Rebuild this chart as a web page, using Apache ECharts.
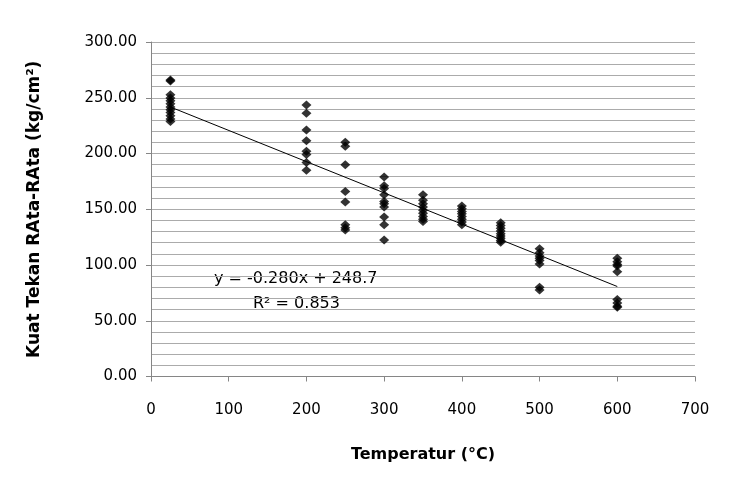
<!DOCTYPE html>
<html>
<head>
<meta charset="utf-8">
<script src="https://cdn.jsdelivr.net/npm/echarts@6/dist/echarts.min.js"></script>
<style>
html,body{margin:0;padding:0;background:#fff;}
#main{width:742px;height:485px;}
</style>
</head>
<body>
<div id="main"></div>
<script>
// suhu (x) dan kuat tekan tiap suhu (y)
var suhu = [25, 200, 250, 300, 350, 400, 450, 500, 600];
var kuat25 = [266, 265, 252.7, 249.7, 247.3, 244.6, 241.7, 239.2, 236.8, 233.8, 230.9, 228.7];
var kuat200 = [243.5, 236, 221, 211.5, 202, 199, 192, 185];
var kuat250 = [210, 206.5, 190, 166, 156.5, 136, 133.5, 131.5];
var kuat300 = [179, 171, 168.5, 163, 157, 155, 152, 143, 136, 122.5];
var kuat350 = [163, 158, 155, 152, 149, 146.5, 143.5, 141, 139];
var kuat400 = [153, 150.5, 148, 146, 143.5, 141, 138.5, 136];
var kuat450 = [138, 135.5, 133, 130.5, 128, 126, 124, 122, 120.5];
var kuat500 = [114.5, 111, 108, 106, 104, 101, 80, 77.5];
var kuat600 = [106, 103, 100.5, 99, 94, 69, 66, 63, 62];
var kuatSemua = [kuat25, kuat200, kuat250, kuat300, kuat350, kuat400, kuat450, kuat500, kuat600];

// garis trend (regresi linear dari label)
var slope = -0.280, intercept = 248.7;
var trendX = [25, 600];

var xTicks = [0, 100, 200, 300, 400, 500, 600, 700];
var yTicks = [0, 50, 100, 150, 200, 250, 300];

var titik = [];
suhu.forEach(function (t, i) {
    kuatSemua[i].forEach(function (v) {
        titik.push([t, v]);
    });
});
var trend = trendX.map(function (x) { return [x, slope * x + intercept]; });

var myChart = echarts.init(document.getElementById('main'));
var font = 'DejaVu Sans';
var option = {
    backgroundColor: '#fff',
    animation: false,
    grid: { left: 151, right: 47, top: 42, bottom: 108.5 },
    xAxis: {
        type: 'value',
        min: xTicks[0], max: xTicks[xTicks.length - 1], interval: 100,
        name: 'Temperatur (°C)',
        nameLocation: 'middle',
        nameGap: 70,
        nameTextStyle: { fontFamily: font, fontSize: 16, fontWeight: 'bold', color: '#000' },
        axisLine: { lineStyle: { color: '#868686' } },
        axisTick: { length: 5, lineStyle: { color: '#868686' } },
        axisLabel: { margin: 26, fontFamily: font, fontSize: 15, color: '#000' },
        splitLine: { show: false }
    },
    yAxis: {
        type: 'value',
        min: yTicks[0], max: yTicks[yTicks.length - 1], interval: 50,
        name: 'Kuat Tekan RAta-RAta (kg/cm²)',
        nameLocation: 'middle',
        nameGap: 108,
        nameTextStyle: { fontFamily: font, fontSize: 17, fontWeight: 'bold', color: '#000' },
        axisLine: { show: true, lineStyle: { color: '#868686' } },
        axisTick: { show: true, length: 5, lineStyle: { color: '#868686' } },
        axisLabel: {
            margin: 14, fontFamily: font, fontSize: 15, color: '#000',
            formatter: function (v) { return v.toFixed(2); }
        },
        splitLine: { show: true, lineStyle: { color: '#ababab', width: 1 } },
        minorTick: { show: false, splitNumber: 5 },
        minorSplitLine: { show: true, lineStyle: { color: '#ababab', width: 1 } }
    },
    graphic: [
        { type: 'text', left: 214, top: 271,
          style: { text: 'y = -0.280x + 248.7', fontFamily: font, fontSize: 16, fill: '#000' } },
        { type: 'text', left: 253, top: 296,
          style: { text: 'R² = 0.853', fontFamily: font, fontSize: 16, fill: '#000' } }
    ],
    series: [
        {
            name: 'Kuat tekan',
            type: 'scatter',
            symbol: 'diamond',
            symbolSize: [10, 9],
            itemStyle: { color: '#000' },
            data: titik,
            z: 3
        },
        {
            name: 'Trend',
            type: 'line',
            showSymbol: false,
            lineStyle: { color: '#000', width: 1 },
            data: trend,
            z: 4
        }
    ]
};
myChart.setOption(option);
</script>
</body>
</html>
